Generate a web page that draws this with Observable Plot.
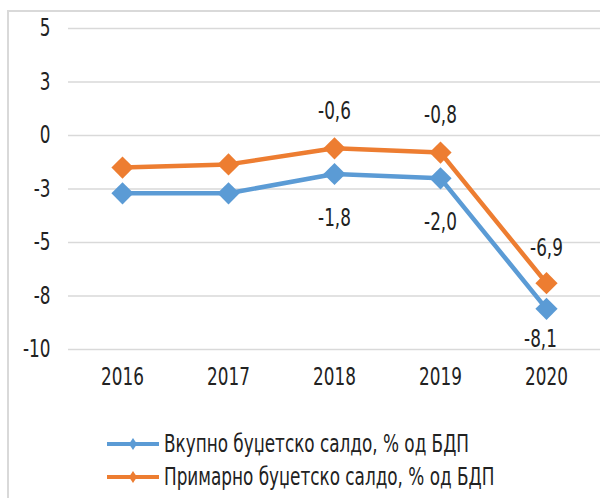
<!DOCTYPE html>
<html>
<head>
<meta charset="utf-8">
<script src="https://cdn.jsdelivr.net/npm/d3@7"></script>
<script src="https://cdn.jsdelivr.net/npm/@observablehq/plot@0.6"></script>
<style>
  html, body { margin: 0; padding: 0; background: #fff; }
  #wrap { position: relative; width: 600px; height: 498px; overflow: hidden; background: #fff;
          font-family: "DejaVu Sans Condensed", "DejaVu Sans", sans-serif; }
  #frame { position: absolute; left: 7px; top: 10px; width: 700px; height: 600px;
           border-left: 2px solid #d9d9d9; border-top: 2px solid #d9d9d9; }
  #chart { position: absolute; left: 0; top: 0; }
  #legend { position: absolute; left: 0; top: 400px; width: 600px; height: 98px; }
  .li { position: absolute; left: 107px; display: flex; align-items: center; height: 30px;
        font-size: 24px; color: #222; white-space: nowrap; }
  .li svg { margin-right: 5px; flex: none; }
  .li span { display: inline-block; transform: scaleX(0.78); transform-origin: left center; }
</style>
</head>
<body>
<div id="wrap">
  <div id="frame"></div>
  <div id="chart"></div>
  <div id="legend"></div>
</div>
<script>
const years = ["2016", "2017", "2018", "2019", "2020"];
const totalBalance = [-2.7, -2.7, -1.8, -2.0, -8.1];     // Вкупно буџетско салдо
const primaryBalance = [-1.5, -1.35, -0.6, -0.8, -6.9];  // Примарно буџетско салдо
const seriesNames = ["Вкупно буџетско салдо, % од БДП", "Примарно буџетско салдо, % од БДП"];
const seriesColors = ["#5B9BD5", "#ED7D31"];
const yTicks = [-10, -7.5, -5, -2.5, 0, 2.5, 5];
const labeledYears = ["2018", "2019", "2020"];

const total = years.map((y, i) => ({year: y, value: totalBalance[i]}));
const primary = years.map((y, i) => ({year: y, value: primaryBalance[i]}));
const fmt = v => v.toFixed(1).replace(".", ",");
const lab = (arr, yrs) => arr.filter(d => yrs.includes(d.year) && labeledYears.includes(d.year));

const font = '"DejaVu Sans Condensed", "DejaVu Sans", sans-serif';

const chart = Plot.plot({
  width: 600,
  height: 400,
  marginLeft: 68,
  marginRight: 0,
  marginTop: 28,
  marginBottom: 51,
  style: {fontFamily: font, fontSize: "24px", color: "#222", background: "transparent"},
  x: {type: "point", domain: years, padding: 0.5, tickSize: 0, tickPadding: 18, label: null},
  y: {domain: [-10, 5], ticks: yTicks, tickFormat: d => d.toFixed(0), tickSize: 0, tickPadding: 18, label: null},
  marks: [
    Plot.gridY(yTicks, {stroke: "#d9d9d9", strokeOpacity: 1, strokeWidth: 1.5}),
    Plot.line(total, {x: "year", y: "value", stroke: seriesColors[0], strokeWidth: 4.5}),
    Plot.line(primary, {x: "year", y: "value", stroke: seriesColors[1], strokeWidth: 4.5}),
    Plot.dot(total, {x: "year", y: "value", symbol: "diamond2", r: 10, fill: seriesColors[0], stroke: null}),
    Plot.dot(primary, {x: "year", y: "value", symbol: "diamond2", r: 10, fill: seriesColors[1], stroke: null}),
    Plot.text(lab(primary, ["2018", "2019"]), {x: "year", y: "value", text: d => fmt(d.value), dy: -37, fill: "#222"}),
    Plot.text(lab(primary, ["2020"]), {x: "year", y: "value", text: d => fmt(d.value), dy: -35, fill: "#222"}),
    Plot.text(lab(total, ["2018", "2019"]), {x: "year", y: "value", text: d => fmt(d.value), dy: 44, fill: "#222"}),
    Plot.text(lab(total, ["2020"]), {x: "year", y: "value", text: d => fmt(d.value), dy: 30, dx: -6, fill: "#222"})
  ]
});

// horizontally condense every text around its own anchor point
chart.querySelectorAll("text").forEach(t => {
  const x = parseFloat(t.getAttribute("x")) || 0;
  const tr = t.getAttribute("transform") || "";
  t.setAttribute("transform", `${tr} translate(${x},0) scale(0.78,1) translate(${-x},0)`);
});
document.getElementById("chart").appendChild(chart);

const legend = document.getElementById("legend");
const legendTops = [44, 77];
seriesNames.forEach((name, i) => {
  const item = document.createElement("div");
  item.className = "li";
  item.style.top = (legendTops[i] - 15) + "px";
  const c = seriesColors[i];
  item.innerHTML = `<svg width="52" height="16" viewBox="0 0 52 16">
      <line x1="0" y1="8" x2="52" y2="8" stroke="${c}" stroke-width="4"/>
      <polygon points="26,2 30,8 26,14 22,8" fill="${c}"/></svg><span>${name}</span>`;
  legend.appendChild(item);
});
</script>
</body>
</html>
